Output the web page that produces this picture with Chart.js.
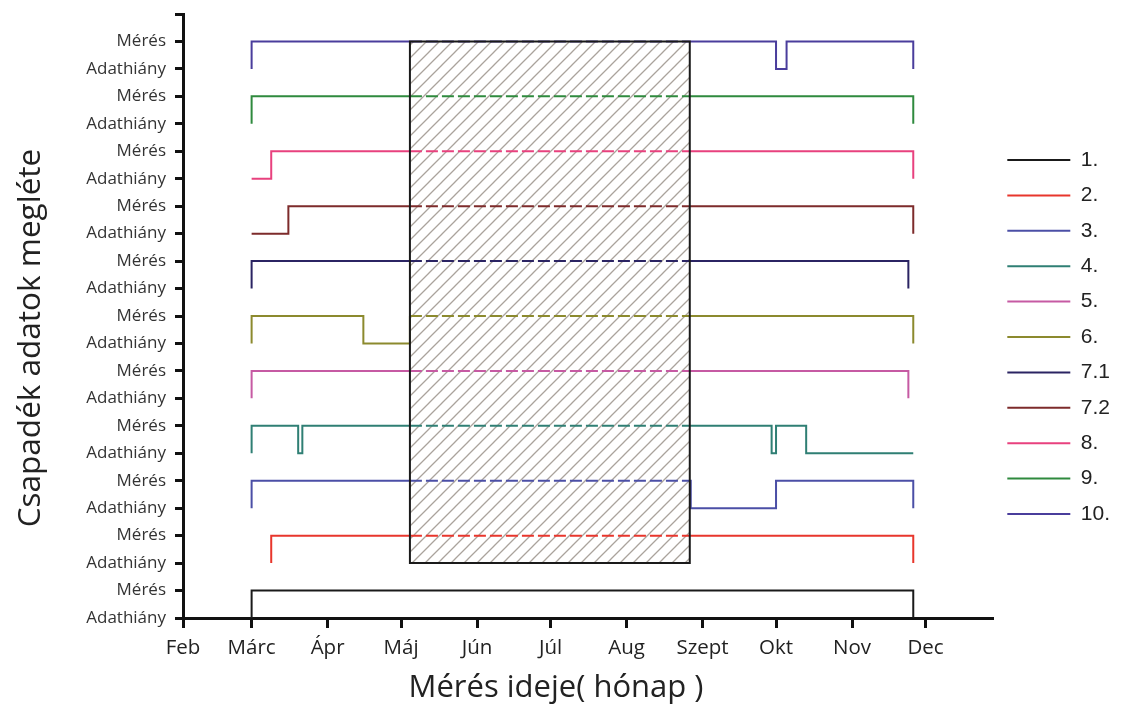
<!DOCTYPE html>
<html><head><meta charset="utf-8">
<script src="https://cdn.jsdelivr.net/npm/chart.js@4.4.1/dist/chart.umd.min.js"></script>
<style>html,body{margin:0;padding:0;background:#fff}#wrap{width:1126px;height:708px}</style>
</head><body><div id="wrap"><canvas id="c" width="1126" height="708"></canvas></div>
<script>
// x values: days counted from 1 February
const MONTH_LABELS = ['Feb','Márc','Ápr','Máj','Jún','Júl','Aug','Szept','Okt','Nov','Dec'];
const MONTH_STARTS = [0,28,59,89,120,150,181,212,242,273,303];
const STATE_LABELS = ['Adathiány','Mérés'];
const SERIES_NAMES = ['1.','2.','3.','4.','5.','6.','7.1','7.2','8.','9.','10.'];
const SERIES_COLORS = ['#1a1a1a','#e8362c','#4b4fa6','#2f7f74','#c65aa3','#8c8a2e','#2b2463','#7d2b2b','#e8417e','#2f8a3e','#4a3d9c'];
// change points [day, state] (state 1 = Mérés, 0 = Adathiány)
const S1  = [[28,0],[28,1],[298,1],[298,0]];
const S2  = [[36,0],[36,1],[298,1],[298,0]];
const S3  = [[28,0],[28,1],[207.2,0],[242,1],[298,1],[298,0]];
const S4  = [[28,0],[28,1],[47,0],[48.7,1],[240.2,0],[242,1],[254.3,0],[298,0]];
const S5  = [[28,0],[28,1],[296,1],[296,0]];
const S6  = [[28,0],[28,1],[73.6,0],[92.6,1],[298,1],[298,0]];
const S71 = [[28,0],[28,1],[296,1],[296,0]];
const S72 = [[28,0],[43,1],[298,1],[298,0]];
const S8  = [[28,0],[36,1],[298,1],[298,0]];
const S9  = [[28,0],[28,1],[298,1],[298,0]];
const S10 = [[28,0],[28,1],[242,0],[246.3,1],[298,1],[298,0]];
const SERIES = [S1,S2,S3,S4,S5,S6,S71,S72,S8,S9,S10];
// hatched period
const RECT_X = [92.6, 206.8];
const RECT_Y = [2, 21];
const X_TITLE = 'Mérés ideje( hónap )';
const Y_TITLE = 'Csapadék adatok megléte';

function toPoints(row, pts){
  const out=[]; let prev=null;
  for(const [x,s] of pts){
    const y=row*2+s;
    if(prev){ for(const b of RECT_X){ if(prev.x<b && x>b) out.push({x:b,y:prev.y}); } }
    const p={x:x,y:y}; out.push(p); prev=p;
  }
  return out;
}

function draw(){
  const canvas=document.getElementById('c');
  const mainCtx=canvas.getContext('2d');
  const s=13, pc=document.createElement('canvas'); pc.width=s; pc.height=s;
  const g=pc.getContext('2d'); g.strokeStyle='#aaa39c'; g.lineWidth=1.3;
  g.beginPath(); g.moveTo(0,s); g.lineTo(s,0); g.moveTo(-1,1); g.lineTo(1,-1); g.moveTo(s-1,s+1); g.lineTo(s+1,s-1); g.stroke();
  const pattern=mainCtx.createPattern(pc,'repeat');

  const inside = c => {
    const a=c.p0.parsed, b=c.p1.parsed;
    return (a.x >= RECT_X[0]-1e-6 && b.x <= RECT_X[1]+1e-6 && a.x < b.x && a.y >= RECT_Y[0] && a.y <= RECT_Y[1]) ? [12,4] : undefined;
  };

  const datasets = SERIES.map((pts,i)=>({
    label: SERIES_NAMES[i], data: toPoints(i,pts), borderColor: SERIES_COLORS[i], backgroundColor: SERIES_COLORS[i],
    borderWidth: 2, stepped: true, pointRadius: 0, fill: false, tension: 0, order: 1,
    borderCapStyle:'butt', borderJoinStyle:'miter', segment:{borderDash: inside}
  }));
  const rectPts = [{x:RECT_X[0],y:RECT_Y[0]},{x:RECT_X[0],y:RECT_Y[1]},{x:RECT_X[1],y:RECT_Y[1]},{x:RECT_X[1],y:RECT_Y[0]},{x:RECT_X[0],y:RECT_Y[0]}];
  datasets.push({label:'_hatch', data: rectPts, borderWidth:0, borderColor:'rgba(0,0,0,0)', backgroundColor: pattern, fill:'shape', pointRadius:0, order:2});
  datasets.push({label:'_frame', data: rectPts, borderWidth:2, borderColor:'#1a1a1a', fill:false, pointRadius:0, order:0, borderJoinStyle:'miter', borderCapStyle:'square'});

  const axisTitles = {id:'axisTitles', afterDraw(chart){
    const c=chart.ctx; c.save(); c.fillStyle='#222'; c.textAlign='center'; c.textBaseline='middle';
    c.font='31px "Open Sans"'; c.fillText(X_TITLE, 556, 688);
    c.translate(31,338); c.rotate(-Math.PI/2); c.font='31.5px "Open Sans"'; c.fillText(Y_TITLE,0,0);
    c.restore();
  }};

  new Chart(canvas, {
    type:'line',
    data:{datasets},
    plugins:[axisTitles],
    options:{
      responsive:false, animation:false, devicePixelRatio:1,
      layout:{padding:{left:0,right:6,top:14,bottom:0}},
      plugins:{
        tooltip:{enabled:false},
        legend:{position:'right', fullSize:false, align:'center',
          title:{display:true, text:'', padding:{top:13.8,bottom:13.8}, font:{size:12}},
          labels:{boxWidth:63, boxHeight:2, padding:14.4, color:'#222',
            font:{family:'"Liberation Sans", Arial, sans-serif', size:21},
            generateLabels: () => SERIES_NAMES.map((n,i)=>({text:n, fillStyle:SERIES_COLORS[i], strokeStyle:SERIES_COLORS[i], lineWidth:0, hidden:false, datasetIndex:i, fontColor:'#222'}))
          }
        }
      },
      scales:{
        x:{type:'linear', min:0, max:330.5,
          afterBuildTicks: sc => { sc.ticks = MONTH_STARTS.map(v=>({value:v})); },
          afterFit: sc => { sc.height = 90; sc.paddingLeft = 0; sc.paddingRight = 0; },
          ticks:{callback:(v,i)=>MONTH_LABELS[i], font:{family:'"Open Sans"', size:20.5}, color:'#222', padding:8, maxRotation:0, autoSkip:false},
          grid:{drawOnChartArea:false, drawTicks:true, tickLength:10, color:'#111', lineWidth:3},
          border:{display:true, color:'#111', width:3}
        },
        y:{type:'linear', min:0, max:22,
          afterBuildTicks: sc => { const t=[]; for(let v=0; v<=22; v++) t.push({value:v}); sc.ticks=t; },
          afterFit: sc => { sc.width = 183; sc.paddingTop = 0; sc.paddingBottom = 0; },
          ticks:{callback:(v)=> v>=22 ? '' : STATE_LABELS[v%2], font:{family:'"Open Sans"', size:17}, color:'#333', padding:9, autoSkip:false},
          grid:{drawOnChartArea:false, drawTicks:true, tickLength:8, color:'#111', lineWidth:3},
          border:{display:true, color:'#111', width:3}
        }
      }
    }
  });
}
if (document.fonts && document.fonts.load) {
  Promise.all([document.fonts.load('16px "Open Sans"'), document.fonts.load('21px "Liberation Sans"')]).then(draw, draw);
} else draw();
</script>
</body></html>
